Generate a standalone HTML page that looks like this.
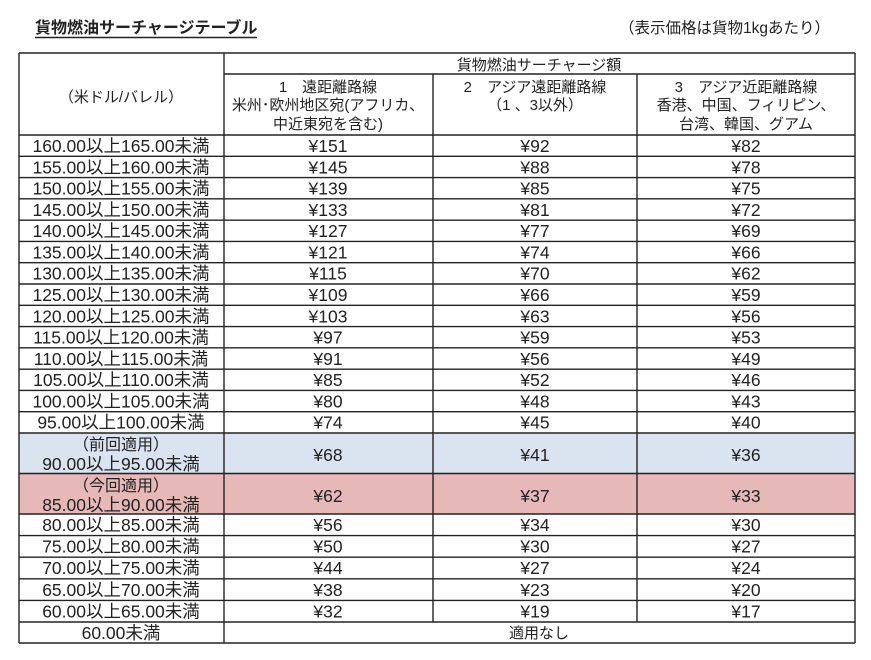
<!DOCTYPE html>
<html><head><meta charset="utf-8"><style>
html,body{margin:0;padding:0;background:#fff;}
svg text{font-family:"Liberation Sans","Noto Sans CJK JP",sans-serif;fill:#222;font-size:15px;}
</style></head><body>
<svg width="871" height="655" viewBox="0 0 871 655" xmlns="http://www.w3.org/2000/svg">
<text x="35" y="33" style="font-weight:bold;font-size:16px">貨物燃油サーチャージテーブル</text>
<line x1="35" y1="37.5" x2="257" y2="37.5" stroke="#222" stroke-width="1.5"/>
<text x="619" y="33" style="font-size:15.5px">（表示価格は貨物1kgあたり）</text>
<rect x="19" y="433" width="836" height="40.5" fill="#dae3f0"/>
<rect x="19" y="473.5" width="836" height="40.5" fill="#e6b8b7"/>
<g stroke="#222" stroke-width="1.4" fill="none" id="lines"></g>
<g id="txt"></g>
<text x="121" y="102" text-anchor="middle">（米ドル/バレル）</text>
<text x="539" y="70" text-anchor="middle">貨物燃油サーチャージ額</text>
<text x="328" y="92" text-anchor="middle">1　遠距離路線</text>
<text x="328" y="110" text-anchor="middle">米州･欧州地区宛(アフリカ、</text>
<text x="328" y="129" text-anchor="middle">中近東宛を含む)</text>
<text x="535" y="92" text-anchor="middle">2　アジア遠距離路線</text>
<text x="535" y="110" text-anchor="middle">（1 、3以外）</text>
<text x="746" y="92" text-anchor="middle">3　アジア近距離路線</text>
<text x="746" y="110" text-anchor="middle">香港、中国、フィリピン、</text>
<text x="746" y="129" text-anchor="middle">台湾、韓国、グアム</text>
</svg>
<script>
var NS="http://www.w3.org/2000/svg";
var L=document.getElementById("lines"),T=document.getElementById("txt");
function ln(a,b,c,d){var e=document.createElementNS(NS,"line");e.setAttribute("x1",a);e.setAttribute("y1",b);e.setAttribute("x2",c);e.setAttribute("y2",d);L.appendChild(e);}
function tx(x,y,s,sz){var e=document.createElementNS(NS,"text");e.setAttribute("x",x);e.setAttribute("y",y);e.setAttribute("text-anchor","middle");if(sz)e.style.fontSize=sz;e.textContent=s;T.appendChild(e);}
ln(19,53,855,53);ln(224,74,855,74);ln(19,135,855,135);
ln(19,53,19,643);ln(855,53,855,643);ln(224,53,224,643);ln(433,74,433,622);ln(637,74,637,622);
var F="17.5px";
var rows=[["160.00以上165.00未満",151,92,82],["155.00以上160.00未満",145,88,78],["150.00以上155.00未満",139,85,75],["145.00以上150.00未満",133,81,72],["140.00以上145.00未満",127,77,69],["135.00以上140.00未満",121,74,66],["130.00以上135.00未満",115,70,62],["125.00以上130.00未満",109,66,59],["120.00以上125.00未満",103,63,56],["115.00以上120.00未満",97,59,53],["110.00以上115.00未満",91,56,49],["105.00以上110.00未満",85,52,46],["100.00以上105.00未満",80,48,43],["95.00以上100.00未満",74,45,40]];
var cx=[121,328,535,746];
rows.forEach(function(r,i){var y0=135+i*21.286,y1=y0+21.286;ln(19,y1,855,y1);var b=y0+17;tx(cx[0],b,r[0],F);tx(cx[1],b,"¥"+r[1],F);tx(cx[2],b,"¥"+r[2],F);tx(cx[3],b,"¥"+r[3],F);});
ln(19,473.5,855,473.5);ln(19,514,855,514);
tx(121,450,"（前回適用）","16px");tx(121,470,"90.00以上95.00未満",F);
tx(328,461,"¥68",F);tx(535,461,"¥41",F);tx(746,461,"¥36",F);
tx(121,491,"（今回適用）","16px");tx(121,511,"85.00以上90.00未満",F);
tx(328,502,"¥62",F);tx(535,502,"¥37",F);tx(746,502,"¥33",F);
var r2=[["80.00以上85.00未満",56,34,30],["75.00以上80.00未満",50,30,27],["70.00以上75.00未満",44,27,24],["65.00以上70.00未満",38,23,20],["60.00以上65.00未満",32,19,17]];
r2.forEach(function(r,i){var y0=514+i*21.6,y1=y0+21.6;ln(19,y1,855,y1);var b=y0+17;tx(cx[0],b,r[0],F);tx(cx[1],b,"¥"+r[1],F);tx(cx[2],b,"¥"+r[2],F);tx(cx[3],b,"¥"+r[3],F);});
ln(19,643,855,643);
tx(121,639,"60.00未満",F);tx(539,638,"適用なし");
</script>
</body></html>
